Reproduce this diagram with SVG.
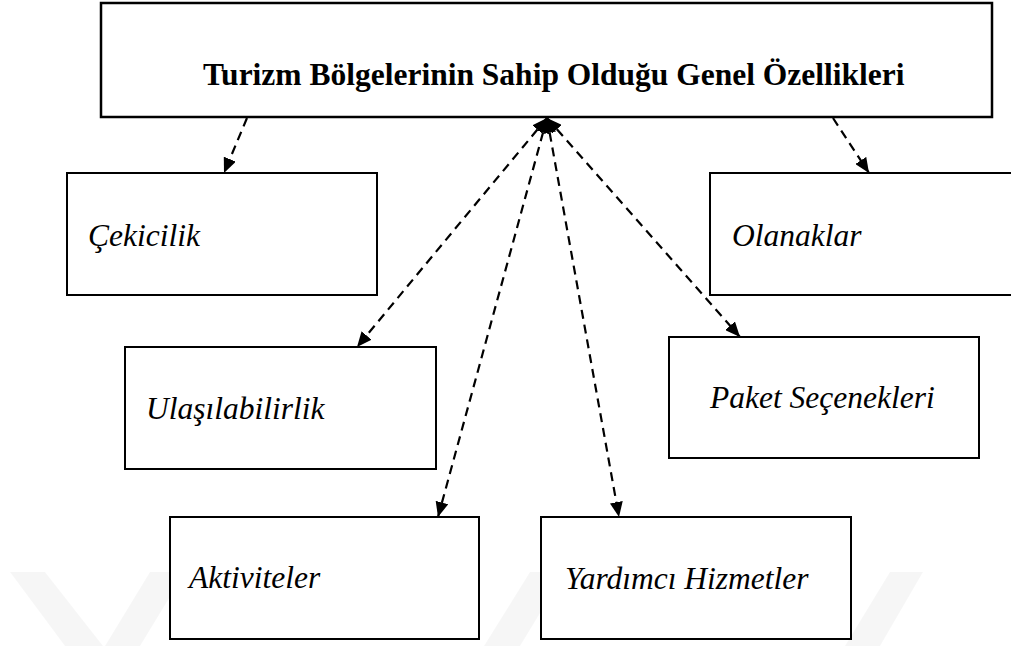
<svg xmlns="http://www.w3.org/2000/svg" width="1011" height="646" viewBox="0 0 1011 646">
  <style>
    .box { fill: #ffffff; stroke: #000000; stroke-width: 2; }
    .main { stroke-width: 2.5; }
    .title { font-family: "Liberation Serif", "Times New Roman", serif; font-weight: bold; font-size: 31.5px; fill: #000; }
    .label { font-family: "Liberation Serif", "Times New Roman", serif; font-style: italic; font-size: 31.5px; fill: #000; }
    .link { fill: none; stroke: #000; stroke-width: 2.2; stroke-dasharray: 9 6; }
    .mark { fill: #000000; opacity: 0.035; }
  </style>
  <defs>
    <marker id="arrow" markerUnits="userSpaceOnUse" markerWidth="15" markerHeight="13" refX="15" refY="6.5" orient="auto-start-reverse">
      <path d="M0,0 L15,6.5 L0,13 z" fill="#000"/>
    </marker>
  </defs>

  <rect width="1011" height="646" fill="#ffffff"/>

  <!-- faint background mark along the bottom edge -->
  <g id="backdrop">
    <polygon class="mark" points="10,572 45,572 103,646 65,646"/>
    <polygon class="mark" points="150,572 185,572 140,646 105,646"/>
    <polygon class="mark" points="484,646 520,646 565,572 530,572"/>
    <polygon class="mark" points="890,572 923,572 880,646 845,646"/>
  </g>

  <g id="connectors">
    <line class="link" x1="247" y1="118" x2="224" y2="173" marker-end="url(#arrow)"/>
    <line class="link" x1="833" y1="118" x2="869" y2="173" marker-end="url(#arrow)"/>
    <line class="link" x1="547" y1="118" x2="357" y2="347" marker-start="url(#arrow)" marker-end="url(#arrow)"/>
    <line class="link" x1="547" y1="118" x2="438" y2="517" marker-start="url(#arrow)" marker-end="url(#arrow)"/>
    <line class="link" x1="547" y1="118" x2="619" y2="517" marker-start="url(#arrow)" marker-end="url(#arrow)"/>
    <line class="link" x1="547" y1="118" x2="740" y2="337" marker-start="url(#arrow)" marker-end="url(#arrow)"/>
  </g>

  <g id="node-main">
    <rect class="box main" x="101" y="3" width="891" height="114"/>
    <text class="title" x="203" y="85">Turizm Bölgelerinin Sahip Olduğu Genel Özellikleri</text>
  </g>

  <g id="node-cekicilik">
    <rect class="box" x="67" y="173" width="310" height="122"/>
    <text class="label" x="88" y="246">Çekicilik</text>
  </g>

  <g id="node-olanaklar">
    <rect class="box" x="710" y="173" width="320" height="122"/>
    <text class="label" x="732" y="246">Olanaklar</text>
  </g>

  <g id="node-ulasilabilirlik">
    <rect class="box" x="125" y="347" width="311" height="122"/>
    <text class="label" x="146" y="419">Ulaşılabilirlik</text>
  </g>

  <g id="node-paket">
    <rect class="box" x="669" y="337" width="310" height="121"/>
    <text class="label" x="710" y="408">Paket Seçenekleri</text>
  </g>

  <g id="node-aktiviteler">
    <rect class="box" x="170" y="517" width="309" height="122"/>
    <text class="label" x="189" y="588">Aktiviteler</text>
  </g>

  <g id="node-yardimci">
    <rect class="box" x="541" y="517" width="310" height="122"/>
    <text class="label" x="565" y="589">Yardımcı Hizmetler</text>
  </g>
</svg>
